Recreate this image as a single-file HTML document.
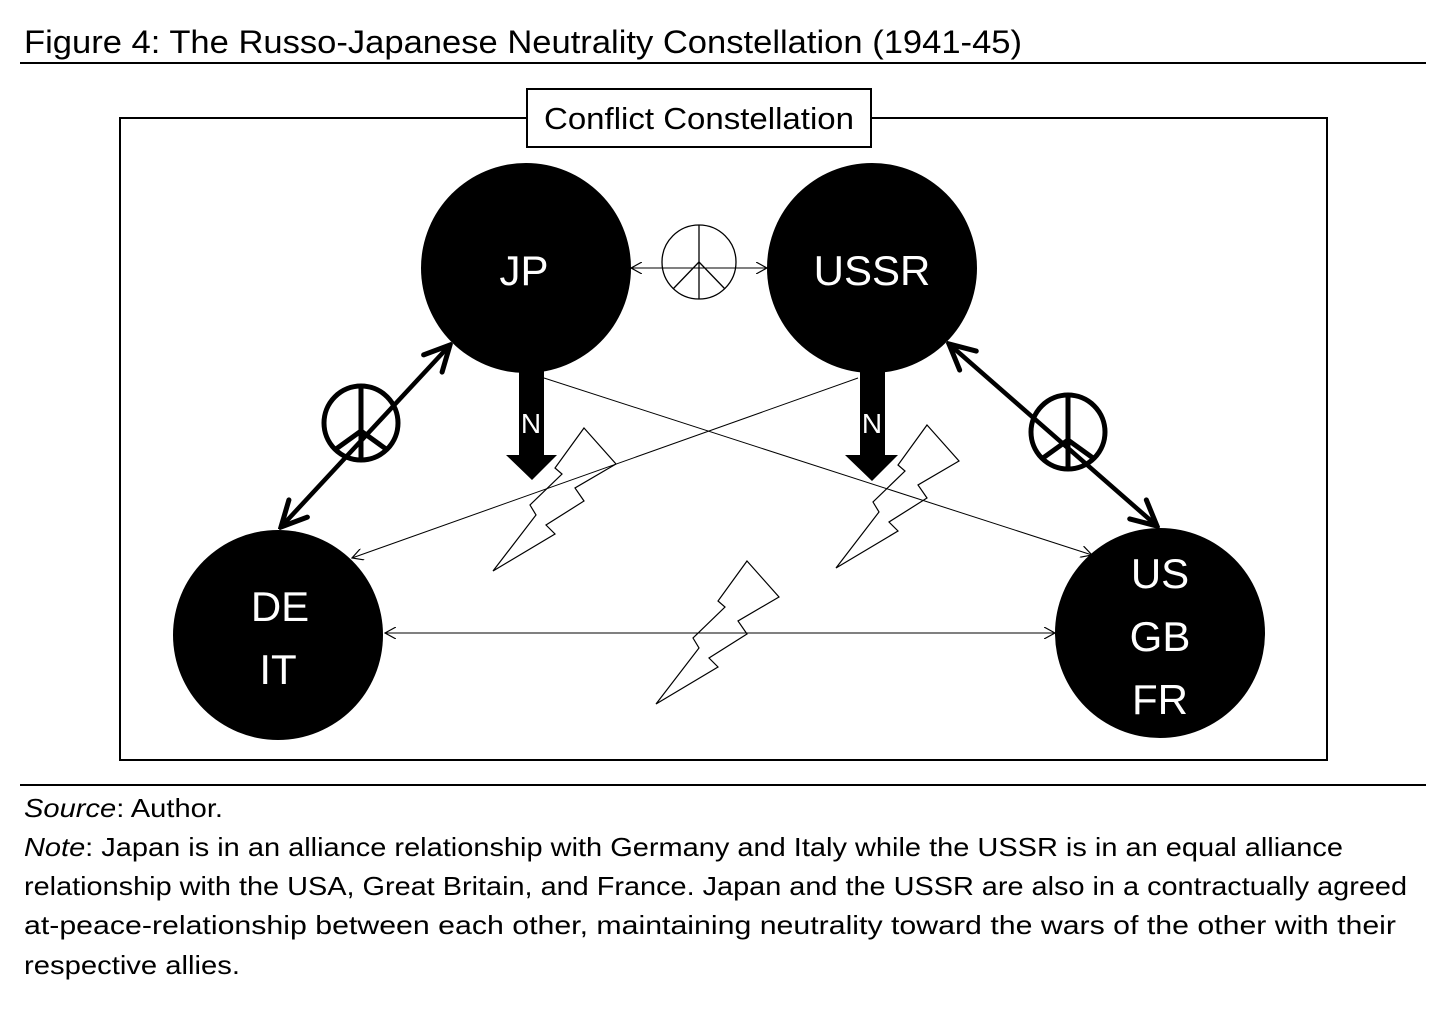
<!DOCTYPE html>
<html><head><meta charset="utf-8"><style>
html,body{margin:0;padding:0;background:#fff;}
svg{display:block;}
text{font-family:"Liberation Sans",sans-serif;}
</style></head><body>
<svg width="1456" height="1012" viewBox="0 0 1456 1012" xmlns="http://www.w3.org/2000/svg">
<defs>
<marker id="ta" viewBox="0 0 12 12" refX="11" refY="6" markerWidth="12" markerHeight="12" markerUnits="userSpaceOnUse" orient="auto-start-reverse">
<path d="M0,0 L11,6 L0,12" fill="none" stroke="#000" stroke-width="1.2"/>
</marker>
<marker id="tk" viewBox="0 0 10 10" refX="9" refY="5" markerWidth="7" markerHeight="7" orient="auto-start-reverse">
<path d="M1,1 L9,5 L1,9" fill="none" stroke="#000" stroke-width="1.6" stroke-linecap="round"/>
</marker>
</defs>
<text x="24" y="53" font-size="32" textLength="998" lengthAdjust="spacingAndGlyphs">Figure 4: The Russo-Japanese Neutrality Constellation (1941-45)</text>
<line x1="20" y1="63" x2="1426" y2="63" stroke="#000" stroke-width="2"/>
<rect x="120" y="118" width="1207" height="642" fill="none" stroke="#000" stroke-width="2"/>
<rect x="527" y="89" width="344" height="58" fill="#fff" stroke="#000" stroke-width="2"/>
<text x="699" y="129" font-size="31" text-anchor="middle" textLength="310" lengthAdjust="spacingAndGlyphs">Conflict Constellation</text>

<line x1="544" y1="378" x2="1092" y2="555" stroke="#000" stroke-width="1" marker-end="url(#ta)"/>
<line x1="858" y1="378" x2="352" y2="558" stroke="#000" stroke-width="1" marker-end="url(#ta)"/>
<line x1="385" y1="633" x2="1055" y2="633" stroke="#000" stroke-width="1" marker-start="url(#ta)" marker-end="url(#ta)"/>
<line x1="631" y1="268" x2="767" y2="268" stroke="#000" stroke-width="1" marker-start="url(#ta)" marker-end="url(#ta)"/>

<g stroke="#000" stroke-width="1.3" fill="none">
<circle cx="699" cy="262" r="37"/>
<line x1="699" y1="225" x2="699" y2="299"/>
<line x1="699" y1="262" x2="673" y2="289"/>
<line x1="699" y1="262" x2="725" y2="289"/>
</g>

<circle cx="526" cy="268" r="105"/>
<circle cx="872" cy="268" r="105"/>
<circle cx="278" cy="635" r="105"/>
<circle cx="1160" cy="633" r="105"/>
<g fill="#fff" font-size="42" text-anchor="middle">
<text x="524" y="285">JP</text>
<text x="872" y="285">USSR</text>
<text x="280" y="621">DE</text>
<text x="278" y="684">IT</text>
<text x="1160" y="588">US</text>
<text x="1160" y="651">GB</text>
<text x="1160" y="714">FR</text>
</g>

<polygon points="519,368 544,368 544,455 557,455 532,480 506,455 519,455"/>
<polygon points="860,368 885,368 885,455 898,455 872,481 845,455 860,455"/>
<text x="531" y="433" fill="#fff" font-size="28" text-anchor="middle">N</text>
<text x="872" y="433" fill="#fff" font-size="28" text-anchor="middle">N</text>

<line x1="450" y1="345" x2="281" y2="527" stroke="#000" stroke-width="4.5" marker-start="url(#tk)" marker-end="url(#tk)"/>
<line x1="949" y1="344" x2="1157" y2="526" stroke="#000" stroke-width="4.5" marker-start="url(#tk)" marker-end="url(#tk)"/>
<g stroke="#000" stroke-width="5" fill="none">
<circle cx="361" cy="423" r="37"/>
<line x1="361" y1="386" x2="361" y2="460"/>
<line x1="361" y1="431" x2="336" y2="449"/>
<line x1="361" y1="431" x2="386" y2="449"/>
<circle cx="1068" cy="432" r="37"/>
<line x1="1068" y1="395" x2="1068" y2="469"/>
<line x1="1068" y1="440" x2="1043" y2="458"/>
<line x1="1068" y1="440" x2="1093" y2="458"/>
</g>

<g fill="none" stroke="#000" stroke-width="1.2" stroke-linejoin="miter">
<polygon transform="translate(584,428)" points="0,0 32,36 -9,60 0,73 -38,97 -29,106 -91,143 -48,87 -54,77 -22,46 -29,40"/>
<polygon transform="translate(927,425)" points="0,0 32,36 -9,60 0,73 -38,97 -29,106 -91,143 -48,87 -54,77 -22,46 -29,40"/>
<polygon transform="translate(747,561)" points="0,0 32,36 -9,60 0,73 -38,97 -29,106 -91,143 -48,87 -54,77 -22,46 -29,40"/>
</g>

<line x1="20" y1="785" x2="1426" y2="785" stroke="#000" stroke-width="2"/>
<g font-size="26">
<text x="24" y="817" textLength="199" lengthAdjust="spacingAndGlyphs"><tspan font-style="italic">Source</tspan>: Author.</text>
<text x="24" y="856" textLength="1319" lengthAdjust="spacingAndGlyphs"><tspan font-style="italic">Note</tspan>: Japan is in an alliance relationship with Germany and Italy while the USSR is in an equal alliance</text>
<text x="24" y="895" textLength="1383" lengthAdjust="spacingAndGlyphs">relationship with the USA, Great Britain, and France. Japan and the USSR are also in a contractually agreed</text>
<text x="24" y="934" textLength="1372" lengthAdjust="spacingAndGlyphs">at-peace-relationship between each other, maintaining neutrality toward the wars of the other with their</text>
<text x="24" y="974" textLength="216" lengthAdjust="spacingAndGlyphs">respective allies.</text>
</g>
</svg>
</body></html>
